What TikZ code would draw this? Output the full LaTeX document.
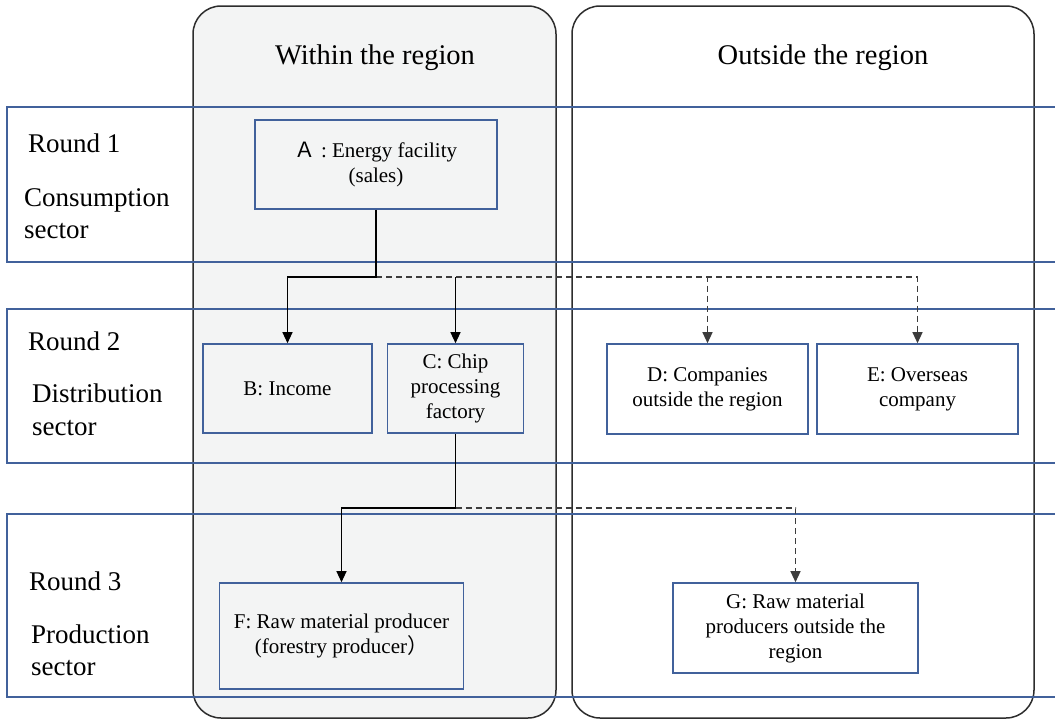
\documentclass[tikz,border=0pt]{standalone}
\usepackage{fontspec}
\setmainfont{Liberation Serif}
\newfontfamily\cjk{Noto Sans CJK SC}
\usetikzlibrary{arrows.meta}
\definecolor{bandblue}{RGB}{65,97,155}
\definecolor{colfill}{RGB}{243,244,244}
\definecolor{coledge}{RGB}{45,45,45}
\definecolor{dashgray}{RGB}{60,60,60}
\begin{document}
\begin{tikzpicture}[x=1pt,y=-1pt,
  column/.style={draw=coledge,line width=1.5pt,rounded corners=28pt},
  band/.style={draw=bandblue,line width=1.6pt},
  box/.style={draw=bandblue,line width=1.6pt,inner sep=0pt,align=center,
    font=\fontsize{21}{25}\selectfont},
  header/.style={anchor=base,inner sep=0pt,font=\fontsize{28.5}{34}\selectfont},
  roundlbl/.style={anchor=base west,inner sep=0pt,font=\fontsize{27}{32}\selectfont},
  conn/.style={draw=black,line width=1.2pt,-{Triangle[width=10pt,length=11pt]}},
  dconn/.style={draw=dashgray,line width=1.2pt,dash pattern=on 6pt off 4pt,
    -{Triangle[width=10pt,length=11pt]}}
]
\clip (0,0) rectangle (1055,720);
% columns
\draw[column,fill=colfill] (193,6) rectangle (556,718);
\draw[column] (572,6) rectangle (1034,718);
\node[header] (hin) at (375,64) {Within the region};
\node[header] (hout) at (823,64) {Outside the region};
% bands
\draw[band] (7,107) rectangle (1062,262);
\draw[band] (7,309) rectangle (1062,463);
\draw[band] (7,514) rectangle (1062,697);
% round labels
\node[roundlbl] (r1) at (28,152) {Round 1};
\node[roundlbl] (r1a) at (24,206) {Consumption};
\node[roundlbl] (r1b) at (24,238) {sector};
\node[roundlbl] (r2) at (28,350) {Round 2};
\node[roundlbl] (r2a) at (32,402) {Distribution};
\node[roundlbl] (r2b) at (32,435) {sector};
\node[roundlbl] (r3) at (29,590) {Round 3};
\node[roundlbl] (r3a) at (31,643) {Production};
\node[roundlbl] (r3b) at (31,675) {sector};
% boxes
\node[box,minimum width=242pt,minimum height=89pt] (A) at (376,164.5)
  {{\cjk Ａ} : Energy facility\\(sales)};
\node[box,minimum width=169pt,minimum height=89pt] (B) at (287.5,388.5) {B: Income};
\node[box,minimum width=136pt,minimum height=89pt] (C) at (455.5,388.5)
  {C: Chip\\processing\\factory};
\node[box,minimum width=201pt,minimum height=90pt] (D) at (707.5,389)
  {D: Companies\\outside the region};
\node[box,minimum width=201pt,minimum height=90pt] (E) at (917.5,389)
  {E: Overseas\\company};
\node[box,minimum width=244pt,minimum height=106pt] (F) at (341.5,636)
  {F: Raw material producer\\(forestry producer{\cjk ）}};
\node[box,minimum width=245pt,minimum height=90pt] (G) at (795.5,628)
  {G: Raw material\\producers outside the\\region};
% connectors
\coordinate (jA) at (376,277);
\coordinate (jC) at (455.5,508);
\draw[dconn] (jA) -| (D.north);
\draw[dconn] (jA) -| (E.north);
\draw[conn] (A.south) -- (jA) -| (B.north);
\draw[conn] (jA -| C.north) -- (C.north);
\draw[dconn] (jC) -| (G.north);
\draw[conn] (C.south) -- (jC) -| (F.north);
\end{tikzpicture}
\end{document}
